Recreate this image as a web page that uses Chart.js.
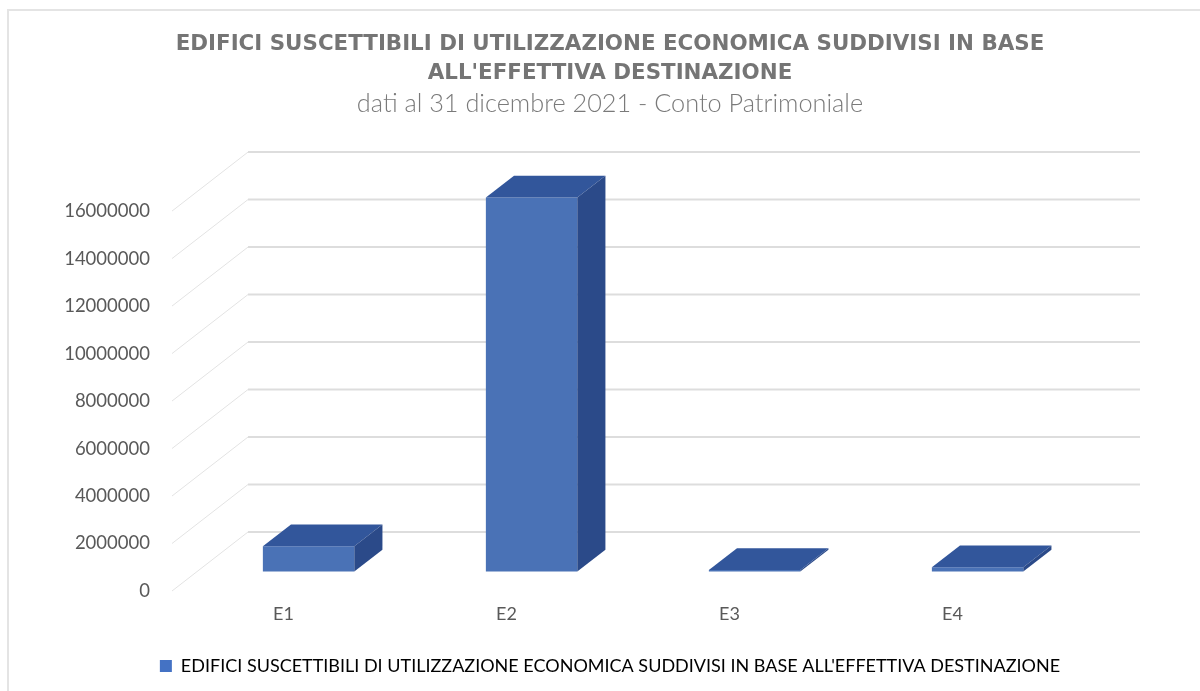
<!DOCTYPE html>
<html>
<head>
<meta charset="utf-8">
<script src="https://cdn.jsdelivr.net/npm/chart.js@4.4.1/dist/chart.umd.min.js"></script>
<style>
  body { margin: 0; background: #fff; }
  #frame { position: absolute; left: 7px; top: 9px; width: 1300px; height: 800px; border: 2px solid #e4e4e4; }
  #wrap { position: absolute; left: 0; top: 0; width: 1200px; height: 691px; }
</style>
</head>
<body>
<div id="frame"></div>
<div id="wrap"><canvas id="myChart"></canvas></div>
<script>
const ctx = document.getElementById('myChart');

const categories = ['E1', 'E2', 'E3', 'E4'];
const valori = [1060000, 15750000, 60000, 180000];
const serie = "EDIFICI SUSCETTIBILI DI UTILIZZAZIONE ECONOMICA SUDDIVISI IN BASE ALL'EFFETTIVA DESTINAZIONE";
const titolo = ['EDIFICI SUSCETTIBILI DI UTILIZZAZIONE ECONOMICA SUDDIVISI IN BASE', "ALL'EFFETTIVA DESTINAZIONE"];
const sottotitolo = 'dati al 31 dicembre 2021 - Conto Patrimoniale';

// depth of the 3d box: back wall offset, and where the bars sit inside it
const depthX = 76, depthY = -59;
const frontPos = 0.33, barDepth = 0.37;

const fake3d = {
    id: 'fake3d',
    beforeDatasetsDraw(chart) {
        const c = chart.ctx;
        const area = chart.chartArea;
        const y = chart.scales.y;
        c.save();
        y.ticks.forEach(t => {
            const py = y.getPixelForValue(t.value);
            // slanted side wall line
            c.strokeStyle = '#e3e3e3';
            c.lineWidth = 1;
            c.beginPath();
            c.moveTo(area.left, py);
            c.lineTo(area.left + depthX, py + depthY);
            c.stroke();
            // back wall line
            c.strokeStyle = '#dddddd';
            c.lineWidth = 2;
            c.beginPath();
            c.moveTo(area.left + depthX, py + depthY);
            c.lineTo(area.right + depthX, py + depthY);
            c.stroke();
        });
        c.restore();
        c.save();
        c.translate(depthX * frontPos, depthY * frontPos);
    },
    afterDatasetsDraw(chart) {
        const c = chart.ctx;
        const dx = depthX * barDepth, dy = depthY * barDepth;
        chart.getDatasetMeta(0).data.forEach(bar => {
            const p = bar.getProps(['x', 'y', 'base', 'width'], true);
            const l = p.x - p.width / 2, r = p.x + p.width / 2;
            // top face
            c.fillStyle = '#32569b';
            c.beginPath();
            c.moveTo(l, p.y);
            c.lineTo(r, p.y);
            c.lineTo(r + dx, p.y + dy);
            c.lineTo(l + dx, p.y + dy);
            c.closePath();
            c.fill();
            // right face
            c.fillStyle = '#2b4a89';
            c.beginPath();
            c.moveTo(r, p.y);
            c.lineTo(r + dx, p.y + dy);
            c.lineTo(r + dx, p.base + dy);
            c.lineTo(r, p.base);
            c.closePath();
            c.fill();
        });
        c.restore();
    }
};

let myChart = new Chart(ctx, {
    type: 'bar',
    data: {
        labels: categories,
        datasets: [{
            label: serie,
            data: valori,
            backgroundColor: '#4a72b6',
            borderWidth: 0,
            barPercentage: 0.41,
            categoryPercentage: 1,
            clip: false
        }]
    },
    options: {
        responsive: true,
        maintainAspectRatio: false,
        animation: false,
        layout: { padding: { left: 20, right: 0, top: 0, bottom: 6 } },
        plugins: {
            title: {
                display: true,
                text: titolo,
                color: '#757575',
                font: { family: 'DejaVu Sans', size: 21.4, weight: 'bold', lineHeight: 1.355 },
                padding: { top: 30, bottom: 0 }
            },
            subtitle: {
                display: true,
                text: sottotitolo,
                color: '#7a7a7a',
                font: { family: 'Lato', size: 25.3, weight: 300, lineHeight: 1.15 },
                padding: { top: 1, bottom: 93 }
            },
            legend: {
                position: 'bottom',
                labels: {
                    color: '#595959',
                    font: { family: 'Lato', size: 18 },
                    boxWidth: 12,
                    boxHeight: 12,
                    padding: 10,
                    generateLabels: chart => [{
                        text: serie,
                        fillStyle: '#4472c4',
                        strokeStyle: '#4472c4',
                        lineWidth: 0,
                        datasetIndex: 0
                    }]
                }
            },
            tooltip: { enabled: false }
        },
        scales: {
            x: {
                grid: { display: false },
                border: { display: false },
                ticks: { color: '#595959', font: { family: 'Lato', size: 18 }, padding: 4 },
                afterFit: scale => { scale.height = 56; }
            },
            y: {
                min: 0,
                max: 16000000,
                grid: { display: false },
                border: { display: false },
                ticks: {
                    stepSize: 2000000,
                    color: '#595959',
                    font: { family: 'Lato', size: 18.5 },
                    padding: 14,
                    callback: v => String(v)
                },
                afterFit: scale => { scale.width = 152; }
            },
            // empty right axis, keeps room for the back wall of the box
            y2: {
                position: 'right',
                min: 0,
                max: 1,
                grid: { display: false },
                border: { display: false },
                ticks: { display: false },
                afterFit: scale => { scale.width = 136; }
            }
        }
    },
    plugins: [fake3d]
});
</script>
</body>
</html>
